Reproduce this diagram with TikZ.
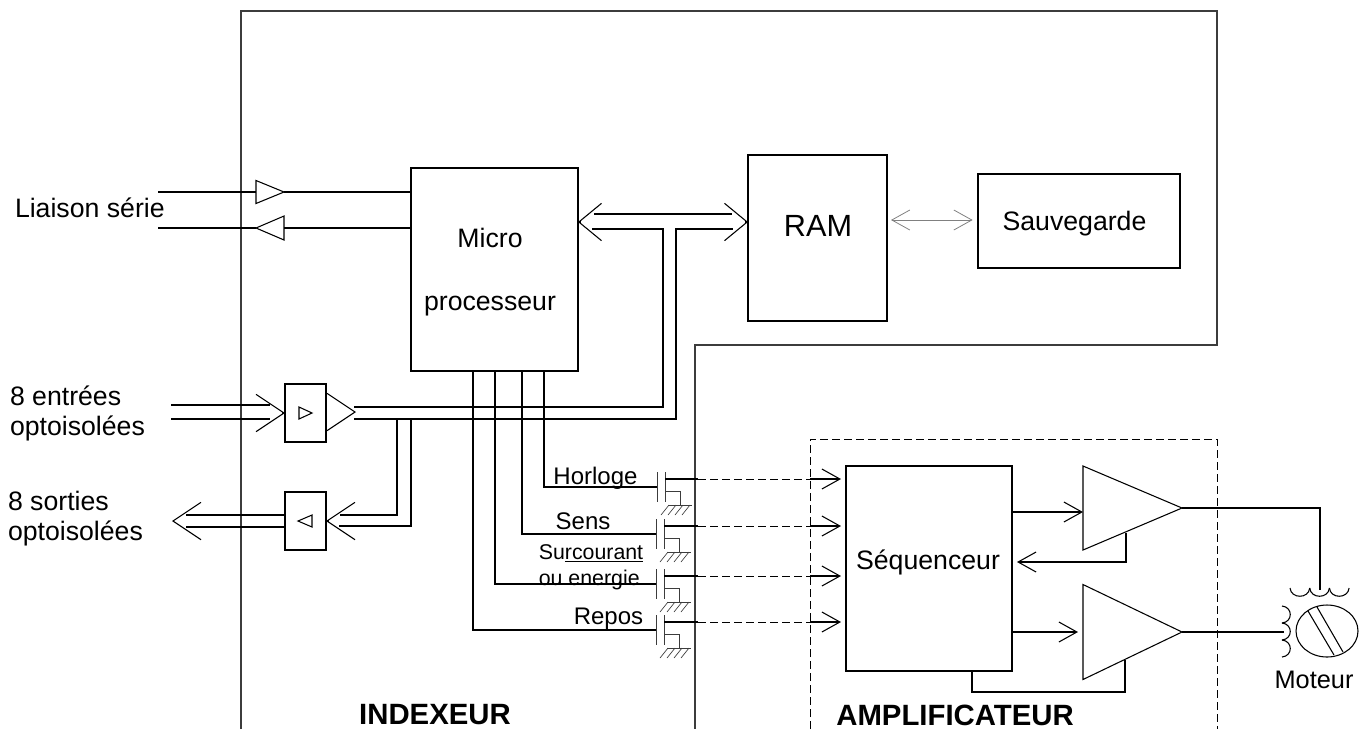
\documentclass[tikz,border=0pt]{standalone}
\usepackage{fontspec}
\setmainfont{Liberation Sans}
\usetikzlibrary{arrows.meta,shapes.geometric}
\definecolor{FrameGray}{RGB}{60,60,60}
\tikzset{
  wire/.style={draw=black,line width=0.8pt},
  thinwire/.style={draw=FrameGray,line width=0.65pt},
  frameline/.style={draw=FrameGray,line width=1pt},
  dashline/.style={draw=black,line width=0.65pt,dash pattern=on 6pt off 3pt},
  box/.style 2 args={draw=black,line width=0.8pt,inner sep=0pt,outer sep=0pt,
    minimum width=#1*0.75pt,minimum height=#2*0.75pt},
  tri/.style 2 args={draw=black,line width=0.8pt,inner sep=0pt,outer sep=0pt,
    isosceles triangle,isosceles triangle stretches,anchor=lower side,
    minimum width=#1*0.75pt,minimum height=#2*0.75pt},
  barb/.style={-{Straight Barb[length=13.5pt,width=15pt]}},
  widebarb/.style={-{Straight Barb[length=21pt,width=28pt]}},
  busbarb/.style={-{Straight Barb[length=17pt,width=28pt]}},
  lab/.style={inner sep=0pt,outer sep=0pt,font=\fontsize{20}{22.5}\selectfont,align=left},
  smalllab/.style={lab,font=\fontsize{18}{20}\selectfont},
  title/.style={inner sep=0pt,outer sep=0pt,font=\fontsize{22}{24}\selectfont\bfseries},
  mos/.pic={
    \draw[thinwire] (0,-15) -- (0,15);
    \draw[thinwire] (8,-15) -- (8,15);
    \draw[thinwire] (8,4) -- (23,4) -- (23,18);
    \draw[thinwire] (11,18) -- (35,18);
    \foreach \hx in {12,19,26,33}
      \draw[thinwire,line width=0.5pt] (\hx,18) -- ++(-8,10);
    \coordinate (-g) at (0,0);
    \coordinate (-d) at (8,-8);
  }
}
\begin{document}
\begin{tikzpicture}[x=0.75pt,y=-0.75pt]
  \useasboundingbox (0,0) rectangle (1369,729);
  % frames
  \draw[frameline] (241,729) -- (241,11) -- (1217,11) -- (1217,345) -- (695,345) -- (695,729);
  \draw[dashline] (810,729) -- (810,439) -- (1217,439) -- (1217,729);
  % blocks
  \node[box={167}{203}] (micro) at (494.5,269.5) {};
  \node[box={139}{166}] (ram) at (817.5,238) {};
  \node[box={202}{94},line width=1.5pt] (save) at (1079,221) {};
  \node[box={166}{205}] (seq) at (929,568.5) {};
  \node[box={41}{58}] (bufin) at (305.5,413) {};
  \node[box={41}{58}] (bufout) at (305.5,521) {};
  % triangles
  \node[tri={23}{28}] (drvin) at (256,192) {};
  \node[tri={24}{28},shape border rotate=180] (drvout) at (284,228) {};
  \node[tri={12}{13}] (sigin) at (299,413) {};
  \node[tri={12}{14},shape border rotate=180] (sigout) at (312,521) {};
  \node[tri={84}{99}] (amp1) at (1083,508) {};
  \node[tri={95}{99}] (amp2) at (1083,632) {};
  \node[draw=black,line width=0.8pt,ellipse,inner sep=0pt,minimum width=46.5pt,minimum height=39pt] (motor) at (1327,631) {};
  \draw[wire] (1308,611) -- (1334,655);
  \draw[wire] (1317,607) -- (1343,652);
  % transistors
  \pic (t1) at (657,487) {mos};
  \pic (t2) at (656,534) {mos};
  \pic (t3) at (656,584) {mos};
  \pic (t4) at (656,630) {mos};
  % free ends
  \coordinate (serin) at (158,192);
  \coordinate (serout) at (158,228);
  \coordinate (inup) at (171,405);
  \coordinate (indown) at (171,419);
  \coordinate (outup) at (186,515);
  \coordinate (outdown) at (186,527);
  \coordinate (coilh) at (1320,590);
  \coordinate (coilv) at (1284,632);
  \coordinate (fbup) at (1126,533);
  \coordinate (fbdown) at (1125,660);
  % serial link
  \draw[wire] (serin) -- (drvin.lower side);
  \draw[wire] (drvin.apex) -- (micro.west |- drvin.apex);
  \draw[wire] (serout) -- (drvout.apex);
  \draw[wire] (drvout.lower side) -- (micro.west |- drvout.lower side);
  % inputs and outputs
  \draw[wire] (inup) -- (270,405);
  \draw[wire] (indown) -- (270,419);
  \draw[widebarb,wire] ([xshift=-2pt]bufin.west) -- (bufin.west);
  \draw[widebarb,wire] (354,412) -- (356,412);
  \draw[wire] (bufout.west |- outup) -- (outup);
  \draw[wire] (bufout.west |- outdown) -- (outdown);
  \draw[widebarb,wire] (174,521) -- (172,521);
  \draw[widebarb,wire] ([xshift=2pt]bufout.east) -- (bufout.east);
  % data bus
  \draw[wire] (354,407) -- (663,407) -- (663,229) -- (592,229);
  \draw[wire] (354,419) -- (676,419) -- (676,229) -- (733,229);
  \draw[wire] (594,214) -- (732,214);
  \draw[wire] (397,419) -- (397,515) -- (340,515);
  \draw[wire] (411,419) -- (411,526) -- (339,526);
  \draw[busbarb,wire] ([xshift=2pt]micro.east |- 0,222) -- (micro.east |- 0,222);
  \draw[busbarb,wire] ([xshift=-2pt]ram.west |- 0,222) -- (ram.west |- 0,222);
  \draw[draw=gray,line width=0.6pt,shorten <=3pt,shorten >=4pt,{Straight Barb[length=13.5pt,width=15pt]}-{Straight Barb[length=13.5pt,width=15pt]}] (ram.east |- 0,220) -- (save.west |- 0,220);
  % control lines
  \draw[wire] (544,0 |- micro.south) |- (t1-g);
  \draw[wire] (522,0 |- micro.south) |- (t2-g);
  \draw[wire] (495,0 |- micro.south) |- (t3-g);
  \draw[wire] (473,0 |- micro.south) |- (t4-g);
  \foreach \t in {t1,t2,t3,t4}{
    \draw[wire] (\t-d) -- (698,0 |- \t-d);
    \draw[dashline] (698,0 |- \t-d) -- (810,0 |- \t-d);
    \draw[barb,wire,shorten >=3.75pt] (810,0 |- \t-d) -- (seq.west |- \t-d);
  }
  % amplifier
  \draw[barb,wire] (seq.east |- 0,512) -- (amp1.lower side |- 0,512);
  \draw[barb,wire,shorten >=3.75pt] (seq.east |- 0,632) -- (amp2.lower side |- 0,632);
  \draw[wire] (amp1.apex) -| (coilh);
  \draw[wire] (amp2.apex) -- (coilv);
  \draw[barb,wire,shorten >=3.75pt] (fbup) |- (seq.east |- 0,562);
  \draw[wire] (fbdown) -- (1125,692) -| (972,0 |- seq.south);
  % coils
  \foreach \i in {0,1,2}{
    \draw[wire] (1290+\i*19.7,588) .. controls +(1,11) and +(-1,11) .. +(19.7,0);
    \draw[wire] (1282,606+\i*17) .. controls +(11,1) and +(11,-1) .. +(0,17);
  }
  % texts
  \node[lab,anchor=west] (liaison) at (15,208) {Liaison série};
  \node[lab,anchor=west] (entrees) at (10,413) {8 entrées\\optoisolées};
  \node[lab,anchor=west] (sorties) at (8,518.5) {8 sorties\\optoisolées};
  \node[lab] (microtxt) at (490,238) {Micro};
  \node[lab] (proctxt) at (490,306) {processeur};
  \node[inner sep=0pt,font=\fontsize{23}{25}\selectfont] (ramtxt) at (818,226) {RAM};
  \node[lab] (savetxt) at (1074.5,224) {Sauvegarde};
  \node[lab] (seqtxt) at (928,562) {Séquenceur};
  \node[smalllab] (horloge) at (595.5,478) {Horloge};
  \node[smalllab] (sens) at (583,521) {Sens};
  \node[lab,font=\fontsize{16}{19.5}\selectfont] (surc) at (591,567) {Su\underline{rcourant}\\ou energie};
  \node[smalllab] (repos) at (608.5,619) {Repos};
  \node[lab,font=\fontsize{19}{21}\selectfont] (moteur) at (1314,680) {Moteur};
  \node[title] (indexeur) at (435,715) {INDEXEUR};
  \node[title] (ampli) at (955,715) {AMPLIFICATEUR};
\end{tikzpicture}
\end{document}
